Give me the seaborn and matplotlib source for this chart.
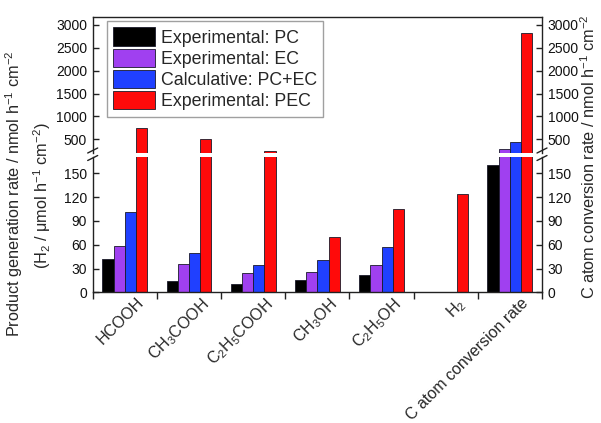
import numpy as np
import pandas as pd
import matplotlib
matplotlib.use("Agg")
import matplotlib.pyplot as plt
import matplotlib.transforms as mtransforms
from matplotlib.lines import Line2D
import seaborn as sns

categories = ["HCOOH", "CH$_{\\mathregular{3}}$COOH", "C$_{\\mathregular{2}}$H$_{\\mathregular{5}}$COOH",
              "CH$_{\\mathregular{3}}$OH", "C$_{\\mathregular{2}}$H$_{\\mathregular{5}}$OH",
              "H$_{\\mathregular{2}}$", "C atom conversion rate"]
series = ["Experimental: PC", "Experimental: EC", "Calculative: PC+EC", "Experimental: PEC"]
pc = [42, 14, 10.5, 15, 22, 0, 160]
ec = [59, 35.5, 24, 25.5, 34.5, 0.5, 288]
pc_ec = [101, 50, 34, 41, 57, 0.8, 448]
pec = [755, 515, 245, 70, 105.5, 124, 2826]
colors = ["#000000", "#A040F0", "#2040FF", "#FF0A0A"]
upper_ticks = [500, 1000, 1500, 2000, 2500, 3000]
lower_ticks = [0, 30, 60, 90, 120, 150]

rows = []
for s, vals in zip(series, [pc, ec, pc_ec, pec]):
    for c, v in zip(categories, vals):
        rows.append({"cat": c, "series": s, "val": v})
df = pd.DataFrame(rows)

sns.set_style("ticks")
plt.rcParams["font.family"] = ["Liberation Sans", "DejaVu Sans"]
plt.rcParams["mathtext.fontset"] = "custom"
plt.rcParams["mathtext.rm"] = "Liberation Sans"
plt.rcParams["mathtext.it"] = "Liberation Sans:italic"
plt.rcParams["mathtext.bf"] = "Liberation Sans:bold"

W, H = 601, 423
fig = plt.figure(figsize=(W / 100, H / 100), dpi=100)
left, right = 92.7 / W, 542 / W
ax_up = fig.add_axes([left, 1 - 152.7 / H, right - left, (152.7 - 16.5) / H])
ax_lo = fig.add_axes([left, 1 - 292.3 / H, right - left, (292.3 - 156.7) / H])

for ax in (ax_up, ax_lo):
    sns.barplot(data=df, x="cat", y="val", hue="series", order=categories, hue_order=series,
                palette=colors, saturation=1, width=0.7, edgecolor="#1a1a2a", linewidth=0.6, ax=ax,
                legend=(ax is ax_up))
    ax.set_xlim(-0.5, 6.5)
    ax.set_xlabel("")
    ax.set_ylabel("")
    for sp in ax.spines.values():
        sp.set_linewidth(1.0)
        sp.set_color("#222222")
    ax.tick_params(axis="y", direction="in", length=4, width=1, left=True, right=True,
                   labelleft=True, labelright=True, labelsize=10, pad=4, colors="#222222",
                   labelcolor="#111111")

ax_up.set_ylim(205, 3185)
ax_up.set_yticks(upper_ticks)
ax_lo.set_ylim(0, 171)
ax_lo.set_yticks(lower_ticks)

ax_up.spines["bottom"].set_visible(False)
ax_up.tick_params(axis="x", bottom=False, labelbottom=False, top=False)
ax_lo.spines["top"].set_visible(False)
ax_lo.spines["right"].set_visible(True)
ax_up.spines["right"].set_visible(True)
ax_up.spines["top"].set_visible(True)

ax_lo.set_xticks(range(len(categories)))
ax_lo.set_xticklabels(categories, rotation=45, ha="right", rotation_mode="anchor", fontsize=11.5)
ax_lo.tick_params(axis="x", which="major", length=0, pad=2)
ax_lo.set_xticks(np.arange(-0.5, 7, 1.0), minor=True)
ax_lo.tick_params(axis="x", which="minor", direction="out", length=5, width=1, colors="#222222")
offset = mtransforms.ScaledTranslation(11 / 100, 0, fig.dpi_scale_trans)
for lbl in ax_lo.get_xticklabels():
    lbl.set_transform(lbl.get_transform() + offset)

# legend
fs = 12.8
pxem = fs * 100 / 72
leg = ax_up.legend(loc="upper left", bbox_to_anchor=(106.7 / W, 1 - 21 / H),
                   bbox_transform=fig.transFigure, borderaxespad=0, frameon=True, fancybox=False,
                   fontsize=fs, handlelength=42 / pxem, handleheight=21 / pxem,
                   labelspacing=2.3 / pxem, handletextpad=5.5 / pxem, borderpad=6.5 / pxem)
leg.get_frame().set_edgecolor("#888888")
leg.get_frame().set_linewidth(1.0)

# break marks
for xs in (92.7, 542):
    for yc in (150.5, 158.0):
        fig.add_artist(Line2D([(xs - 5) / W, (xs + 5) / W], [1 - (yc + 2.5) / H, 1 - (yc - 2.5) / H],
                              transform=fig.transFigure, color="#222222", lw=1.0))

# axis labels
ylab1 = "Product generation rate / nmol h$^{\\mathregular{-1}}$ cm$^{\\mathregular{-2}}$"
ylab2 = "(H$_{\\mathregular{2}}$ / \u03bcmol h$^{\\mathregular{-1}}$ cm$^{\\mathregular{-2}}$)"
ylabr = "C atom conversion rate / nmol h$^{\\mathregular{-1}}$ cm$^{\\mathregular{-2}}$"
fig.text(14 / W, 1 - 194 / H, ylab1, rotation=90, ha="center", va="center", fontsize=11.7)
fig.text(42 / W, 1 - 196 / H, ylab2, rotation=90, ha="center", va="center", fontsize=11.7)
fig.text(589 / W, 1 - 157 / H, ylabr, rotation=90, ha="center", va="center", fontsize=11.7)

fig.savefig("out.png", dpi=100)
